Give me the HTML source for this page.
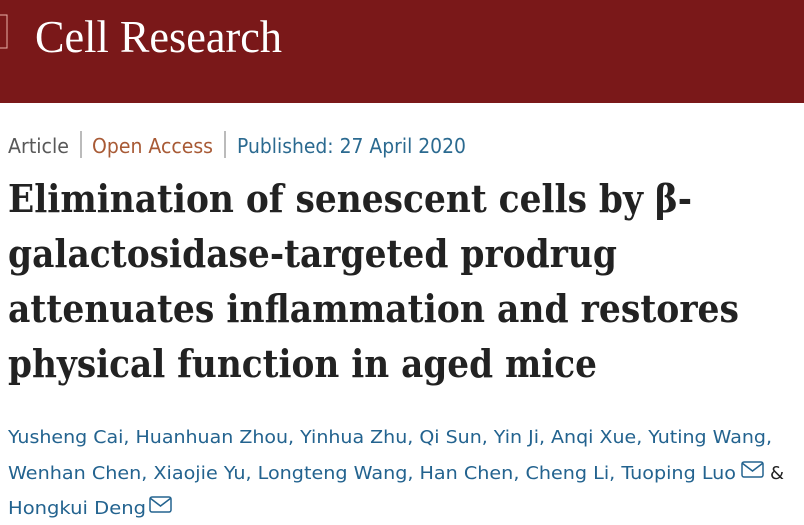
<!DOCTYPE html>
<html><head><meta charset="utf-8"><style>
html,body{margin:0;padding:0;background:#fff;width:804px;height:525px;overflow:hidden}
</style></head><body>
<svg width="804" height="525" xmlns="http://www.w3.org/2000/svg">
<rect x="0" y="0" width="804" height="103" fill="#7a1819"/>
<rect x="-2" y="15" width="9" height="33" fill="none" stroke="#e9b0a8" stroke-width="1"/>
<text x="35" y="52" font-family="Liberation Serif, serif" font-size="45" fill="#fff" textLength="247" lengthAdjust="spacingAndGlyphs">Cell Research</text>
<g font-family="DejaVu Sans, sans-serif" font-size="20">
<text x="8" y="153" fill="#595959" textLength="61" lengthAdjust="spacingAndGlyphs">Article</text>
<rect x="80.5" y="131" width="1" height="27" fill="#777"/>
<text x="92" y="153" fill="#a85a35" textLength="121" lengthAdjust="spacingAndGlyphs">Open Access</text>
<rect x="224.5" y="131" width="1" height="27" fill="#777"/>
<text x="237" y="153" fill="#2b6a90" textLength="229" lengthAdjust="spacingAndGlyphs">Published: 27 April 2020</text>
</g>
<g font-family="DejaVu Serif, Liberation Serif, serif" font-weight="bold" font-size="38" fill="#222">
<text x="8" y="212" textLength="684" lengthAdjust="spacingAndGlyphs">Elimination of senescent cells by β-</text>
<text x="8" y="267" textLength="609" lengthAdjust="spacingAndGlyphs">galactosidase-targeted prodrug</text>
<text x="8" y="322" textLength="731" lengthAdjust="spacingAndGlyphs">attenuates inflammation and restores</text>
<text x="8" y="377" textLength="589" lengthAdjust="spacingAndGlyphs">physical function in aged mice</text>
</g>
<g font-family="DejaVu Sans, sans-serif" font-size="18" fill="#23638f">
<text x="8" y="443" textLength="764" lengthAdjust="spacingAndGlyphs">Yusheng Cai, Huanhuan Zhou, Yinhua Zhu, Qi Sun, Yin Ji, Anqi Xue, Yuting Wang,</text>
<text x="8" y="479" textLength="728" lengthAdjust="spacingAndGlyphs">Wenhan Chen, Xiaojie Yu, Longteng Wang, Han Chen, Cheng Li, Tuoping Luo</text>
<text x="770" y="479" fill="#222">&amp;</text>
<text x="8" y="514" textLength="138" lengthAdjust="spacingAndGlyphs">Hongkui Deng</text>
</g>
<g fill="none" stroke="#23638f" stroke-width="1.5">
<rect x="742" y="462" width="21" height="15" rx="2"/>
<polyline points="742,463 752.5,471 763,463"/>
<rect x="150" y="497" width="21" height="15" rx="2"/>
<polyline points="150,498 160.5,506 171,498"/>
</g>
</svg>
</body></html>
